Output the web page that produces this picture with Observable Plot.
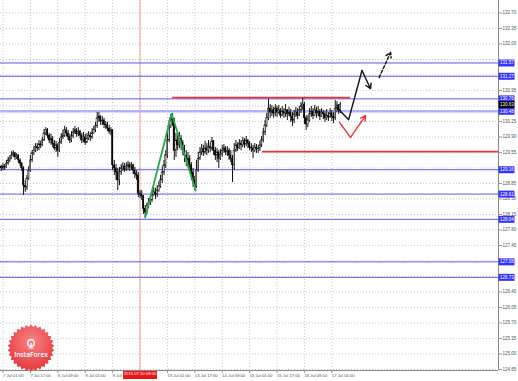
<!DOCTYPE html>
<html><head><meta charset="utf-8">
<script src="https://cdn.jsdelivr.net/npm/d3@7"></script>
<script src="https://cdn.jsdelivr.net/npm/@observablehq/plot@0.6"></script>
<style>
html,body{margin:0;padding:0;background:#fff;}
#wrap{position:relative;width:518px;height:381px;overflow:hidden;background:#fff;}
#logo{position:absolute;left:0;top:0;pointer-events:none;}
</style></head><body><div id="wrap"></div>
<script>
// ---- data (H1 bars, index 0 = 7 Jul 01:00) ----
const firstBar = -1;
const firstOpen = 129.23;
const closes = [
129.19,129.23,129.21,129.30,129.37,129.41,129.48,129.53,129.44,129.48,129.37,
129.30,129.19,128.80,128.76,128.96,129.14,129.37,129.53,129.59,129.68,
129.64,129.73,129.71,129.82,129.98,130.05,129.93,129.82,129.86,129.75,
129.64,129.71,129.59,129.77,129.89,129.93,130.05,129.98,129.89,129.82,
129.91,130.00,130.05,129.96,130.02,129.93,129.82,129.89,129.77,129.86,
129.93,129.89,129.98,130.05,130.14,130.32,130.36,130.25,130.27,130.18,
130.16,130.09,130.02,130.05,129.26,129.19,129.10,128.92,129.10,129.19,
129.23,129.16,129.23,129.26,129.21,129.26,129.14,129.07,129.03,128.62,
128.60,128.56,128.28,128.19,128.33,128.40,128.47,128.58,128.65,128.60,
128.69,128.78,128.92,129.10,129.26,129.48,129.82,130.16,130.32,130.27,
129.59,129.82,129.71,129.86,129.77,129.64,129.48,129.37,129.41,129.26,
129.10,128.92,128.78,129.14,129.41,129.55,129.62,129.55,129.64,129.59,
129.68,129.64,129.80,129.59,129.48,129.55,129.41,129.50,129.59,129.64,
129.55,129.59,129.48,129.41,129.26,129.59,129.71,129.64,129.75,129.71,
129.80,129.73,129.82,129.75,129.66,129.64,129.59,129.66,129.62,129.64,
129.71,129.82,130.00,130.16,130.32,130.54,130.45,130.50,130.43,130.54,
130.45,130.50,130.38,130.47,130.43,130.50,130.41,130.45,130.36,130.27,
130.41,130.45,130.38,130.50,130.59,130.63,130.32,130.18,130.27,130.41,
130.47,130.38,130.50,130.43,130.47,130.36,130.45,130.41,130.32,130.38,
130.34,130.43,130.36,130.32,130.54,130.61,130.50,130.63];
const highs = [
129.26,129.30,129.28,129.37,129.44,129.48,129.57,129.59,129.55,129.53,129.50,
129.41,129.32,129.23,128.92,129.03,129.23,129.48,129.59,129.68,129.75,
129.75,129.82,129.80,129.89,130.07,130.11,130.09,129.98,129.96,129.91,
129.82,129.80,129.75,129.86,129.98,130.05,130.14,130.11,130.05,129.96,
130.02,130.09,130.14,130.09,130.11,130.05,129.98,130.00,129.96,129.98,
130.02,130.00,130.09,130.14,130.23,130.45,130.45,130.38,130.36,130.32,
130.25,130.23,130.16,130.11,130.07,129.37,129.28,129.19,129.21,129.28,
129.32,129.30,129.32,129.35,129.32,129.32,129.28,129.21,129.14,129.10,
128.69,128.69,128.58,128.35,128.40,128.51,128.56,128.65,128.76,128.74,
128.80,128.89,129.03,129.23,129.37,129.59,129.98,130.27,130.41,130.43,
130.32,129.98,129.93,130.00,129.93,129.82,129.71,129.59,129.55,129.48,
129.32,129.19,129.01,129.37,129.55,129.66,129.73,129.71,129.80,129.75,
129.82,129.77,129.89,129.82,129.66,129.64,129.59,129.62,129.71,129.73,
129.68,129.68,129.64,129.59,129.48,129.75,129.82,129.77,129.84,129.82,
129.89,129.86,129.91,129.84,129.80,129.75,129.71,129.75,129.73,129.71,
129.80,129.91,130.09,130.27,130.43,130.75,130.63,130.61,130.57,130.63,
130.59,130.61,130.54,130.59,130.54,130.63,130.52,130.57,130.52,130.45,
130.50,130.57,130.54,130.59,130.68,130.77,130.68,130.38,130.38,130.54,
130.59,130.54,130.61,130.57,130.59,130.52,130.54,130.50,130.47,130.52,
130.45,130.54,130.50,130.45,130.72,130.70,130.63,130.68];
const lows = [
129.12,129.14,129.14,129.19,129.26,129.32,129.39,129.44,129.37,129.39,129.30,
129.23,129.12,128.58,128.65,128.69,128.92,129.10,129.32,129.48,129.55,
129.57,129.59,129.64,129.68,129.80,129.93,129.86,129.75,129.71,129.66,
129.59,129.55,129.44,129.55,129.73,129.84,129.89,129.91,129.82,129.75,
129.77,129.86,129.96,129.89,129.91,129.86,129.75,129.77,129.71,129.75,
129.82,129.80,129.84,129.96,130.00,130.09,130.23,130.16,130.16,130.09,
130.07,130.02,129.96,129.93,129.14,129.03,128.92,128.69,128.80,129.03,
129.12,129.10,129.12,129.14,129.12,129.14,129.05,128.96,128.92,128.53,
128.51,128.47,128.15,128.08,128.15,128.28,128.35,128.42,128.56,128.49,
128.53,128.65,128.74,128.85,129.03,129.19,129.41,129.77,130.09,130.14,
129.37,129.44,129.59,129.64,129.59,129.48,129.32,129.23,129.21,129.14,
128.92,128.76,128.69,128.74,129.10,129.37,129.48,129.46,129.50,129.48,
129.53,129.55,129.59,129.48,129.37,129.32,129.19,129.37,129.44,129.53,
129.48,129.46,129.37,129.32,128.87,129.14,129.55,129.57,129.62,129.59,
129.66,129.64,129.68,129.64,129.59,129.55,129.41,129.55,129.53,129.53,
129.57,129.66,129.77,129.93,130.11,130.27,130.32,130.36,130.32,130.36,
130.34,130.41,130.32,130.36,130.32,130.34,130.27,130.36,130.23,130.14,
130.20,130.34,130.29,130.36,130.43,130.50,130.18,130.05,130.11,130.23,
130.34,130.29,130.36,130.32,130.36,130.27,130.34,130.29,130.23,130.27,
130.25,130.32,130.25,130.20,130.27,130.45,130.41,130.43];

const priceTicks = [124.65,125.00,125.35,125.70,126.05,126.40,126.75,127.10,127.45,127.80,128.15,128.50,
  128.85,129.20,129.55,129.90,130.25,130.60,130.95,131.30,131.65,132.00,132.35,132.70];
const timeTickBars = [0,16,32,48,64,80,96,112,128,144,160,176,192];
const timeTickLabels = ["7 Jul 01:00","7 Jul 17:00","8 Jul 09:00","9 Jul 01:00","9 Jul 17:00","10 Jul 09:00",
  "13 Jul 01:00","13 Jul 17:00","14 Jul 09:00","15 Jul 01:00","15 Jul 17:00","16 Jul 09:00","17 Jul 01:00"];
const markerBar = 80;
const markerLabel = "2015.07.10 09:00";
const blueLevels = [131.57,131.27,130.76,129.16,128.61,128.04,127.08,126.73];
const wideLevel = [130.48];
const currentPrice = [130.63];
const redLevels = [{p:130.79, from:99, to:203},{p:129.57, from:151.5, to:289.3}];
const greenPath = [{i:83,p:128.08},{i:98.5,p:130.42},{i:112.5,p:128.69}];
const blackPath = [{i:194.8,p:130.57},{i:201.8,p:130.29},{i:209.6,p:131.40}];
const blackArrow = [{i1:209.6,p1:131.40,i2:214.6,p2:130.99}];
const redPath = [{i:196.5,p:130.23},{i:202.9,p:129.89}];
const redArrow = [{i1:202.9,p1:129.89,i2:211.7,p2:130.38}];
const dashArrow = [{i1:219.6,p1:131.24,i2:226.3,p2:131.81}];

// ---- build ----
const xDomain = [-1.46, 289.3];
const yDomain = [124.627, 132.981];
const bars = closes.map((c, k) => {
  const o = k ? closes[k - 1] : firstOpen;
  return {i: k + firstBar, o, c, h: Math.max(highs[k], o, c), l: Math.min(lows[k], o, c)};
});
const allLabels = blueLevels.concat(wideLevel, currentPrice);
const shownTicks = priceTicks.filter(t => allLabels.every(v => Math.abs(v - t) > 0.1));
const box = (w, h) => ({draw(ctx) {ctx.moveTo(-w/2,-h/2);ctx.lineTo(w/2,-h/2);ctx.lineTo(w/2,h/2);ctx.lineTo(-w/2,h/2);ctx.closePath();}});
const grid = {stroke: "#c8c8c8", strokeDasharray: "1,2", strokeWidth: 1};

const chart = Plot.plot({
  width: 518, height: 381,
  marginLeft: 0, marginRight: 20, marginTop: 0, marginBottom: 11,
  x: {domain: xDomain},
  y: {domain: yDomain},
  style: {fontFamily: "Liberation Sans, Arial, sans-serif", fontSize: "4.5px", background: "#fff"},
  marks: [
    Plot.ruleY(priceTicks, grid),
    Plot.ruleX(timeTickBars, grid),
    Plot.ruleX([markerBar], {stroke: "#ff9c9c", strokeWidth: 1}),
    Plot.ruleY(blueLevels, {stroke: "#5a5af2", strokeWidth: 1}),
    Plot.ruleY(wideLevel, {stroke: "#b2b2f6", strokeWidth: 2.5}),
    Plot.ruleY(redLevels, {y: "p", x1: "from", x2: "to", stroke: "#e5343c", strokeWidth: 1.8}),
    Plot.ruleX(bars, {x: "i", y1: "l", y2: "h", stroke: "#111", strokeWidth: 1}),
    Plot.rect(bars, {x1: d => d.i - 0.38, x2: d => d.i + 0.38, y1: "o", y2: "c",
      fill: d => d.c >= d.o ? "#fff" : "#000", stroke: "#000", strokeWidth: 0.5}),
    Plot.line(greenPath, {x: "i", y: "p", stroke: "#2aa845", strokeWidth: 1.8}),
    Plot.line(blackPath, {x: "i", y: "p", stroke: "#111", strokeWidth: 1.4}),
    Plot.arrow(blackArrow, {x1: "i1", y1: "p1", x2: "i2", y2: "p2", stroke: "#111", strokeWidth: 1.4, headLength: 6}),
    Plot.line(redPath, {x: "i", y: "p", stroke: "#e5343c", strokeWidth: 1.4}),
    Plot.arrow(redArrow, {x1: "i1", y1: "p1", x2: "i2", y2: "p2", stroke: "#e5343c", strokeWidth: 1.4, headLength: 6}),
    Plot.arrow(dashArrow, {x1: "i1", y1: "p1", x2: "i2", y2: "p2", stroke: "#111", strokeWidth: 1.4, headLength: 6, strokeDasharray: "3,2"}),
    Plot.ruleY([yDomain[0]], {stroke: "#888"}),
    Plot.ruleX([xDomain[1]], {stroke: "#888"}),
    Plot.axisY({anchor: "right", ticks: shownTicks, tickFormat: d => d.toFixed(2), tickSize: 3, tickPadding: 1,
      textAnchor: "start", fontSize: 4.5, fill: "#555", stroke: "#999", label: null}),
    Plot.axisX({ticks: timeTickBars, tickFormat: d => d === markerBar ? "" : timeTickLabels[timeTickBars.indexOf(d)],
      tickSize: 3, tickPadding: 1, textAnchor: "start", fontSize: 4.2, fill: "#555", stroke: "#999", label: null}),
    Plot.dot(blueLevels.concat(wideLevel), {y: d => d, frameAnchor: "right", dx: 8, symbol: box(16, 7), fill: "#3434ff", stroke: "none"}),
    Plot.dot(currentPrice, {y: d => d, frameAnchor: "right", dx: 8, symbol: box(16, 7), fill: "#000", stroke: "none"}),
    Plot.text(allLabels, {y: d => d, text: d => d.toFixed(2), frameAnchor: "right", dx: 1.5, textAnchor: "start", fill: "#fff", fontSize: 4.5}),
    Plot.dot([markerBar], {x: d => d, frameAnchor: "bottom", dy: 4.5, symbol: box(34, 8), fill: "#ee1515", stroke: "none"}),
    Plot.text([markerBar], {x: d => d, text: () => markerLabel, frameAnchor: "bottom", dy: 4.5, fill: "#fff", fontSize: 4.2})
  ]
});
const wrap = document.getElementById("wrap");
wrap.appendChild(chart);

// ---- InstaForex badge (decoration) ----
const ns = "http://www.w3.org/2000/svg";
const svg = document.createElementNS(ns, "svg");
svg.setAttribute("id", "logo"); svg.setAttribute("width", 518); svg.setAttribute("height", 381);
const cx = 31, cy = 348, R = 23.5, r = 21, n = 30;
const pts = [];
for (let k = 0; k < 2 * n; k++) {
  const a = Math.PI * k / n, rr = k % 2 ? r : R;
  pts.push((cx + rr * Math.sin(a)).toFixed(2) + "," + (cy - rr * Math.cos(a)).toFixed(2));
}
svg.innerHTML = `<defs><radialGradient id="lg" cx="50%" cy="35%" r="65%">
<stop offset="0" stop-color="#f98585"/><stop offset="1" stop-color="#e2363c"/></radialGradient></defs>
<polygon points="${pts.join(" ")}" fill="url(#lg)"/>
<circle cx="${cx}" cy="${cy - 5}" r="3.3" fill="none" stroke="#fff" stroke-width="1.3"/>
<line x1="${cx}" y1="${cy - 5}" x2="${cx}" y2="${cy}" stroke="#fff" stroke-width="1.3"/>
<line x1="${cx - 2.5}" y1="${cy}" x2="${cx + 2.5}" y2="${cy}" stroke="#fff" stroke-width="1"/>
<text x="${cx}" y="${cy + 9}" text-anchor="middle" fill="#fff" font-family="Open Sans, Liberation Sans, sans-serif" font-size="6.6" font-weight="600">InstaForex</text>`;
wrap.appendChild(svg);
</script></body></html>
